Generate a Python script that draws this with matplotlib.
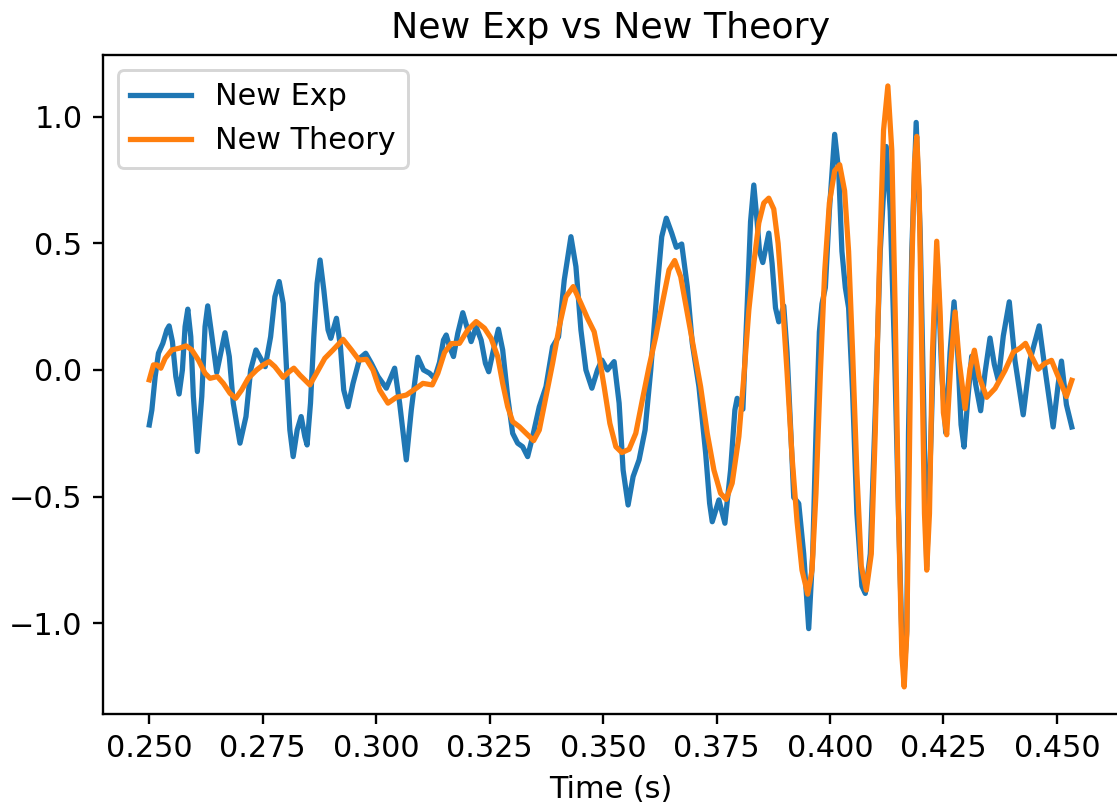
import matplotlib
matplotlib.use("Agg")
import matplotlib.pyplot as plt

# values
exp_t = [0.25000, 0.25057, 0.25130, 0.25202, 0.25299, 0.25387, 0.25438, 0.25510, 0.25585, 0.25657,
         0.25730, 0.25789, 0.25849, 0.25915, 0.25972, 0.26060, 0.26157, 0.26229, 0.26288, 0.26361,
         0.26486, 0.26669, 0.26763, 0.26851, 0.26999, 0.27131, 0.27234, 0.27351, 0.27454, 0.27555,
         0.27674, 0.27768, 0.27863, 0.27951, 0.28026, 0.28098, 0.28171, 0.28259, 0.28347, 0.28428,
         0.28478, 0.28553, 0.28626, 0.28698, 0.28764, 0.28846, 0.28940, 0.29000, 0.29125, 0.29213,
         0.29285, 0.29380, 0.29490, 0.29637, 0.29769, 0.29895, 0.30040, 0.30224, 0.30407, 0.30517,
         0.30664, 0.30774, 0.30919, 0.31044, 0.31176, 0.31286, 0.31396, 0.31484, 0.31544, 0.31616,
         0.31704, 0.31799, 0.31909, 0.31997, 0.32093, 0.32203, 0.32313, 0.32408, 0.32480, 0.32568,
         0.32694, 0.32788, 0.32898, 0.33008, 0.33118, 0.33228, 0.33338, 0.33448, 0.33595, 0.33742,
         0.33888, 0.34019, 0.34145, 0.34292, 0.34402, 0.34512, 0.34622, 0.34754, 0.34877, 0.34974,
         0.35097, 0.35244, 0.35354, 0.35442, 0.35552, 0.35662, 0.35794, 0.35926, 0.36051, 0.36196,
         0.36293, 0.36394, 0.36513, 0.36614, 0.36733, 0.36856, 0.36966, 0.37113, 0.37261, 0.37348,
         0.37406, 0.37553, 0.37685, 0.37810, 0.37905, 0.37955, 0.38081, 0.38175, 0.38250, 0.38322,
         0.38395, 0.38448, 0.38520, 0.38652, 0.38725, 0.38800, 0.38872, 0.38982, 0.39055, 0.39130,
         0.39202, 0.39312, 0.39422, 0.39532, 0.39620, 0.39692, 0.39767, 0.39824, 0.39899, 0.39987,
         0.40104, 0.40192, 0.40264, 0.40339, 0.40411, 0.40499, 0.40594, 0.40704, 0.40779, 0.40889,
         0.40998, 0.41108, 0.41240, 0.41328, 0.41423, 0.41511, 0.41584, 0.41636, 0.41693, 0.41731,
         0.41803, 0.41900, 0.41988, 0.42060, 0.42133, 0.42230, 0.42318, 0.42362, 0.42463, 0.42551,
         0.42647, 0.42735, 0.42815, 0.42889, 0.42955, 0.43035, 0.43123, 0.43211, 0.43321, 0.43418,
         0.43527, 0.43622, 0.43710, 0.43820, 0.43952, 0.44077, 0.44259, 0.44407, 0.44611, 0.44737,
         0.44919, 0.45029, 0.45102, 0.45211, 0.45330]
exp_v = [-0.217, -0.158, -0.026, 0.066, 0.105, 0.158, 0.174, 0.112, -0.026, -0.095,
         0.000, 0.171, 0.240, 0.131, -0.105, -0.322, -0.105, 0.171, 0.253, 0.158,
         -0.010, 0.147, 0.053, -0.131, -0.289, -0.184, 0.000, 0.079, 0.046, 0.013,
         0.131, 0.289, 0.349, 0.263, 0.000, -0.237, -0.342, -0.237, -0.184, -0.263,
         -0.296, -0.131, 0.131, 0.342, 0.434, 0.316, 0.158, 0.125, 0.204, 0.092,
         -0.079, -0.145, -0.053, 0.046, 0.066, 0.026, -0.026, -0.072, 0.007, -0.131,
         -0.355, -0.158, 0.050, 0.000, -0.013, -0.033, 0.030, 0.118, 0.138, 0.092,
         0.053, 0.145, 0.226, 0.171, 0.112, 0.171, 0.118, 0.026, -0.007, 0.066,
         0.161, 0.079, -0.105, -0.250, -0.289, -0.303, -0.342, -0.263, -0.145, -0.066,
         0.092, 0.131, 0.355, 0.526, 0.408, 0.158, 0.000, -0.072, 0.000, 0.039,
         0.000, 0.033, -0.131, -0.395, -0.533, -0.421, -0.355, -0.237, 0.000, 0.329,
         0.526, 0.599, 0.540, 0.484, 0.497, 0.329, 0.105, -0.066, -0.329, -0.526,
         -0.599, -0.513, -0.605, -0.395, -0.158, -0.112, -0.155, 0.250, 0.585, 0.730,
         0.585, 0.468, 0.424, 0.540, 0.420, 0.245, 0.190, 0.253, 0.070, -0.216,
         -0.503, -0.527, -0.726, -1.021, -0.726, -0.248, 0.150, 0.261, 0.325, 0.628,
         0.930, 0.786, 0.468, 0.325, 0.245, -0.089, -0.567, -0.853, -0.882, -0.726,
         -0.169, 0.468, 0.882, 0.628, 0.070, -0.567, -1.050, -1.200, -1.030, -0.248,
         0.468, 0.977, 0.548, -0.089, -0.774, -0.248, 0.309, 0.450, -0.010, -0.248,
         0.070, 0.269, 0.070, -0.216, -0.304, -0.121, 0.054, -0.057, -0.161, -0.010,
         0.126, 0.022, -0.041, 0.134, 0.269, 0.038, -0.177, 0.038, 0.174, 0.006,
         -0.225, -0.057, 0.035, -0.137, -0.225]

theory_t = [0.25000, 0.25092, 0.25167, 0.25255, 0.25350, 0.25497, 0.25664, 0.25811, 0.25937, 0.26082,
            0.26229, 0.26339, 0.26500, 0.26632, 0.26779, 0.26904, 0.27036, 0.27181, 0.27366, 0.27511,
            0.27643, 0.27768, 0.27951, 0.28083, 0.28186, 0.28318, 0.28538, 0.28685, 0.28868, 0.29050,
            0.29270, 0.29455, 0.29622, 0.29785, 0.29930, 0.30077, 0.30260, 0.30444, 0.30664, 0.30884,
            0.31029, 0.31236, 0.31359, 0.31506, 0.31654, 0.31836, 0.32019, 0.32203, 0.32386, 0.32533,
            0.32678, 0.32788, 0.32898, 0.33008, 0.33155, 0.33303, 0.33470, 0.33595, 0.33742, 0.33888,
            0.34035, 0.34182, 0.34343, 0.34512, 0.34657, 0.34804, 0.34914, 0.35024, 0.35150, 0.35282,
            0.35414, 0.35574, 0.35721, 0.35866, 0.36014, 0.36161, 0.36306, 0.36454, 0.36579, 0.36711,
            0.36856, 0.37003, 0.37150, 0.37296, 0.37443, 0.37590, 0.37713, 0.37845, 0.37993, 0.38103,
            0.38213, 0.38322, 0.38432, 0.38542, 0.38652, 0.38762, 0.38857, 0.38945, 0.39055, 0.39165,
            0.39275, 0.39384, 0.39510, 0.39605, 0.39692, 0.39789, 0.39884, 0.39987, 0.40104, 0.40214,
            0.40323, 0.40411, 0.40499, 0.40594, 0.40691, 0.40801, 0.40911, 0.40998, 0.41086, 0.41181,
            0.41276, 0.41363, 0.41438, 0.41511, 0.41584, 0.41636, 0.41693, 0.41746, 0.41803, 0.41863,
            0.41913, 0.41966, 0.42023, 0.42083, 0.42133, 0.42193, 0.42259, 0.42353, 0.42428, 0.42500,
            0.42573, 0.42661, 0.42758, 0.42846, 0.42979, 0.43088, 0.43183, 0.43286, 0.43454, 0.43639,
            0.43857, 0.44040, 0.44187, 0.44310, 0.44442, 0.44589, 0.44737, 0.44882, 0.45029, 0.45211,
            0.45330]
theory_v = [-0.039, 0.020, 0.020, 0.007, 0.046, 0.079, 0.086, 0.095, 0.079, 0.039,
            -0.013, -0.033, -0.026, -0.053, -0.092, -0.112, -0.079, -0.033, 0.000, 0.020,
            0.033, 0.013, -0.029, -0.007, 0.007, -0.020, -0.059, -0.013, 0.046, 0.079,
            0.121, 0.079, 0.039, 0.042, 0.000, -0.079, -0.131, -0.108, -0.099, -0.072,
            -0.053, -0.059, -0.013, 0.069, 0.104, 0.105, 0.158, 0.191, 0.165, 0.125,
            0.053, -0.053, -0.145, -0.204, -0.224, -0.250, -0.279, -0.237, -0.105, 0.026,
            0.171, 0.289, 0.329, 0.263, 0.204, 0.151, 0.053, -0.066, -0.211, -0.303,
            -0.326, -0.313, -0.250, -0.118, 0.013, 0.131, 0.263, 0.395, 0.432, 0.368,
            0.224, 0.079, -0.066, -0.250, -0.395, -0.487, -0.511, -0.447, -0.263, -0.026,
            0.237, 0.421, 0.580, 0.659, 0.678, 0.635, 0.500, 0.293, -0.010, -0.343,
            -0.598, -0.790, -0.885, -0.790, -0.487, -0.010, 0.388, 0.659, 0.786, 0.810,
            0.707, 0.468, 0.070, -0.407, -0.774, -0.869, -0.726, -0.248, 0.388, 0.946,
            1.121, 0.866, 0.229, -0.567, -1.124, -1.251, -1.044, -0.407, 0.388, 0.818,
            0.922, 0.707, 0.070, -0.567, -0.790, -0.567, 0.070, 0.508, 0.229, -0.169,
            -0.256, 0.022, 0.229, 0.038, -0.153, 0.006, 0.078, -0.026, -0.108, -0.073,
            -0.002, 0.070, 0.086, 0.105, 0.054, 0.003, 0.026, 0.038, -0.026, -0.105,
            -0.041]

plt.rcParams["font.size"] = 10.4

fig = plt.figure(figsize=(1117 / 210, 808 / 210), dpi=210)
ax = fig.add_axes([0.0922, 0.1163, 0.9096, 0.8156])

ax.plot(exp_t, exp_v, lw=1.8, label="New Exp")
ax.plot(theory_t, theory_v, lw=1.8, label="New Theory")

ax.set_xlim(0.2398, 0.4637)
ax.set_ylim(-1.358, 1.243)
ax.set_xticks([0.250, 0.275, 0.300, 0.325, 0.350, 0.375, 0.400, 0.425, 0.450])
ax.set_title("New Exp vs New Theory")
ax.set_xlabel("Time (s)")
ax.legend(loc="upper left")

fig.savefig("out.png", dpi=210)
